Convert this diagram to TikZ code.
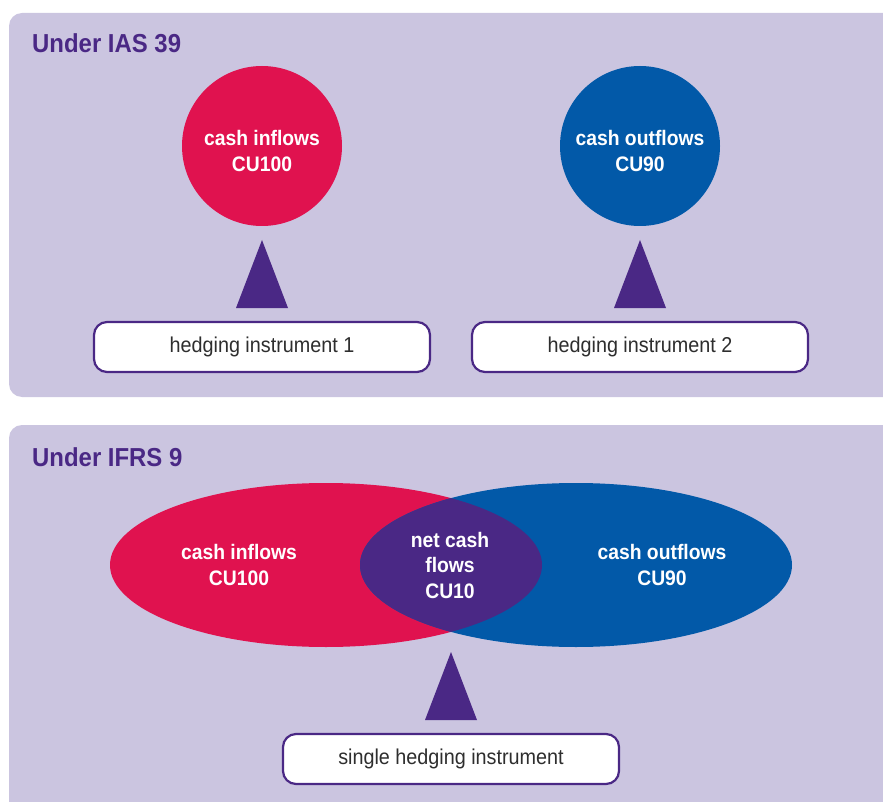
\documentclass[tikz,border=0pt]{standalone}
\usepackage{fontspec}
\setmainfont{Liberation Sans}[FakeStretch=0.92]
\usetikzlibrary{shapes.geometric}
\definecolor{panelbg}{HTML}{CBC5E0}
\definecolor{ipurple}{HTML}{4A2885}
\definecolor{ired}{HTML}{E0124F}
\definecolor{iblue}{HTML}{0259A8}
\definecolor{itext}{HTML}{2E2E2E}
\tikzset{
  panel/.style={fill=panelbg},
  title/.style={anchor=base west, text=ipurple, font=\bfseries\fontsize{26}{30}\selectfont, inner sep=0},
  bigcircle/.style={circle, minimum size=160pt, inner sep=0},
  inlabel/.style={align=center, text=white, font=\bfseries\fontsize{21}{25.5}\selectfont, inner sep=0},
  hbox/.style={draw=ipurple, line width=2.2pt, fill=white, rounded corners=13pt, minimum width=336pt, minimum height=50pt, text=itext, font=\fontsize{21.5}{24}\selectfont, inner sep=0},
  tri/.style={fill=ipurple},
}
\begin{document}
\begin{tikzpicture}[x=1pt,y=-1pt]
\useasboundingbox (0,0) rectangle (883,802);
\clip (0,0) rectangle (883,802);
% panels
\fill[panel, rounded corners=13pt] (9,13) rectangle (920,397);
\fill[panel, rounded corners=13pt] (9,425) rectangle (920,840);
\node[title] (t1) at (32,53) {Under IAS 39};
\node[title] (t2) at (32,466) {Under IFRS 9};
% top panel
\node[bigcircle, fill=ired] (cin) at (262,146) {};
\node[inlabel] (cinl) at (262,151) {cash inflows\\CU100};
\node[bigcircle, fill=iblue] (cout) at (640,146) {};
\node[inlabel] (coutl) at (640,151) {cash outflows\\CU90};
\fill[tri] (262,240) -- (288,308) -- (236,308) -- cycle;
\fill[tri] (640,240) -- (666,308) -- (614,308) -- cycle;
\node[hbox] (h1) at (262,347) {hedging instrument 1};
\node[hbox] (h2) at (640,347) {hedging instrument 2};
% bottom panel
\fill[ired] (326,565) ellipse [x radius=216, y radius=82];
\fill[iblue] (576,565) ellipse [x radius=216, y radius=82];
\begin{scope}
\clip (326,565) ellipse [x radius=216, y radius=82];
\fill[ipurple] (576,565) ellipse [x radius=216, y radius=82];
\end{scope}
\node[inlabel] (ein) at (239,565) {cash inflows\\CU100};
\node[inlabel] (enet) at (450,565) {net cash\\flows\\CU10};
\node[inlabel] (eout) at (662,565) {cash outflows\\CU90};
\fill[tri] (451,652) -- (477,720) -- (425,720) -- cycle;
\node[hbox] (h3) at (451,759) {single hedging instrument};
\end{tikzpicture}
\end{document}
